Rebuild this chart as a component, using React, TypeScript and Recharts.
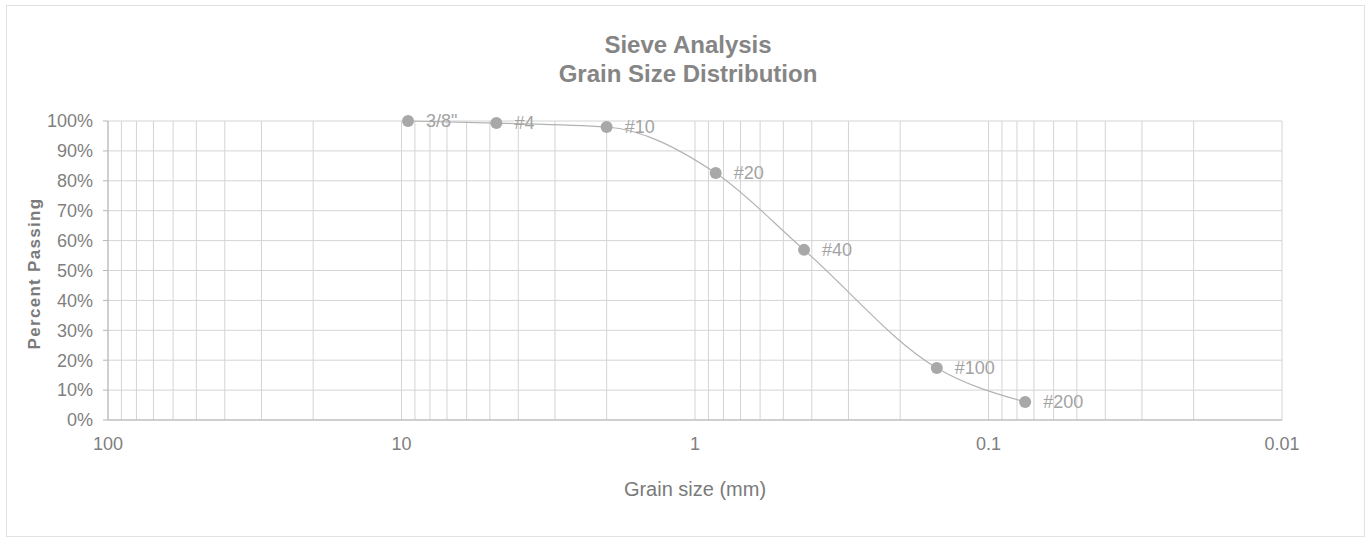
import { LineChart, Line, XAxis, YAxis, CartesianGrid, LabelList, Label } from "recharts";

// sieve openings (mm) and percent passing
const sieves = ['3/8"', "#4", "#10", "#20", "#40", "#100", "#200"];
const sizes = [9.5, 4.75, 2.0, 0.85, 0.425, 0.15, 0.075];
const passing = [100, 99.3, 98, 82.6, 56.9, 17.4, 6];

const decades = [100, 10, 1, 0.1, 0.01];
const percentTicks = [0, 10, 20, 30, 40, 50, 60, 70, 80, 90, 100];

const data = sieves.map((name, i) => ({ name, size: sizes[i], pass: passing[i] }));

// log grid: every 1..9 inside each decade
const logTicks: number[] = [];
decades.slice(1).forEach((d) => {
  for (let m = 1; m <= 9; m++) logTicks.push(+(d * m).toPrecision(3));
});
logTicks.push(100);

const isDecade = (v: number) => decades.some((d) => Math.abs(d - v) < d * 1e-6);
const fmtSize = (v: number) => (isDecade(v) ? String(v) : "");

const font = "'Liberation Sans', Arial, sans-serif";
const grey = "#7f7f7f";

const YTitle = (props: any) => {
  const { viewBox } = props;
  const x = 34;
  const y = viewBox.y + viewBox.height / 2 + 3;
  return (
    <text
      x={x}
      y={y}
      transform={`rotate(-90 ${x} ${y})`}
      textAnchor="middle"
      dominantBaseline="central"
      fill="#7a7a7a"
      fontSize={17}
      fontWeight="bold"
      letterSpacing={1.3}
      fontFamily={font}
    >
      Percent Passing
    </text>
  );
};

export default function App() {
  return (
    <div style={{ position: "absolute", left: 0, top: 0, width: 1369, height: 542, background: "#fff", fontFamily: font }}>
      <div
        style={{
          position: "absolute",
          left: 6,
          top: 5,
          width: 1359,
          height: 532,
          border: "1px solid #e2e2e2",
          boxSizing: "border-box",
        }}
      />
      <div
        style={{
          position: "absolute",
          left: 0,
          width: 1376,
          top: 30,
          textAlign: "center",
          color: "#858585",
          fontSize: 24,
          fontWeight: "bold",
          lineHeight: "29px",
        }}
      >
        Sieve Analysis
        <br />
        Grain Size Distribution
      </div>
      <LineChart
        width={1369}
        height={542}
        data={data}
        margin={{ top: 121, right: 87, bottom: 42, left: 18 }}
        style={{ position: "absolute", left: 0, top: 0 }}
      >
        <CartesianGrid stroke="#d4d4d4" strokeWidth={1} />
        <XAxis
          dataKey="size"
          type="number"
          scale="log"
          domain={[0.01, 100]}
          reversed
          allowDataOverflow
          ticks={logTicks}
          interval={0}
          tickFormatter={fmtSize}
          tickLine={false}
          tickMargin={11}
          height={80}
          stroke="#b5b5b5"
          tick={{ fill: grey, fontSize: 18, fontFamily: font }}
        >
          <Label
            value="Grain size (mm)"
            position="insideBottom"
            offset={4}
            fill="#7a7a7a"
            fontSize={20}
            fontFamily={font}
          />
        </XAxis>
        <YAxis
          dataKey="pass"
          type="number"
          domain={[0, 100]}
          ticks={percentTicks}
          interval={0}
          tickFormatter={(v: number) => `${v}%`}
          width={90}
          tickSize={5}
          tickMargin={10}
          stroke="#b5b5b5"
          tick={{ fill: grey, fontSize: 18, fontFamily: font }}
        >
          <Label content={YTitle} />
        </YAxis>
        <Line
          dataKey="pass"
          type="monotone"
          stroke="#b3b3b3"
          strokeWidth={1.2}
          dot={{ r: 6, fill: "#a8a8a8", stroke: "none" }}
          activeDot={false}
          isAnimationActive={false}
        >
          <LabelList dataKey="name" position="right" offset={18} fill="#a3a3a3" fontSize={18} fontFamily={font} />
        </Line>
      </LineChart>
    </div>
  );
}
